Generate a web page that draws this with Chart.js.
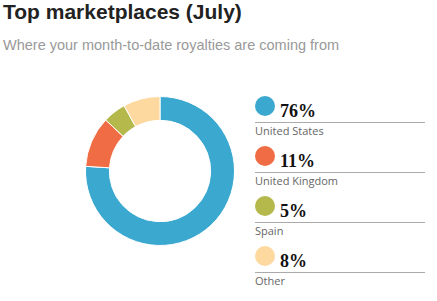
<!DOCTYPE html>
<html lang="en">
<head>
    <meta charset="UTF-8">
    <title>Top marketplaces</title>
    <style>
        body {
            margin: 0;
            width: 437px;
            height: 301px;
            background: #fff;
            font-family: 'Liberation Sans', Arial, sans-serif;
            position: relative;
            overflow: hidden;
        }
        h1 {
            position: absolute;
            left: 3px;
            top: 0px;
            margin: 0;
            font-size: 21px;
            line-height: 24px;
            font-weight: bold;
            color: #222;
        }
        .sub {
            position: absolute;
            left: 3px;
            top: 37px;
            font-size: 14.5px;
            line-height: 17px;
            color: #999;
        }
        #chart-box {
            position: absolute;
            left: 85px;
            top: 96px;
            width: 150px;
            height: 150px;
        }
        .legend-item {
            position: absolute;
            left: 255px;
            width: 170px;
            height: 50px;
        }
        .dot {
            position: absolute;
            left: 0;
            top: 0;
            width: 20px;
            height: 20px;
            border-radius: 50%;
        }
        .pct {
            position: absolute;
            left: 25px;
            top: 5px;
            font-family: 'Liberation Serif', serif;
            font-weight: bold;
            font-size: 18px;
            line-height: 20px;
            color: #111;
        }
        .rule {
            position: absolute;
            left: 0;
            top: 26px;
            width: 170px;
            border-top: 1px solid #aaa;
        }
        .name {
            position: absolute;
            left: 0;
            top: 27px;
            font-family: 'Open Sans', sans-serif;
            font-size: 11px;
            line-height: 16px;
            color: #666;
        }
    </style>
</head>
<body>
    <h1>Top marketplaces (July)</h1>
    <div class="sub">Where your month-to-date royalties are coming from</div>
    <div id="chart-box"><canvas id="donut"></canvas></div>
    <div id="legend"></div>

    <script src="https://cdn.jsdelivr.net/npm/chart.js"></script>
    <script>
        const markets = ['United States', 'United Kingdom', 'Spain', 'Other'];
        const shares = [76, 11, 5, 8];
        const colors = ['#3ba8d0', '#ef6c44', '#b5b84a', '#fdd9a0'];

        // legend on the right, one row per market
        const legend = document.getElementById('legend');
        markets.forEach((m, i) => {
            const item = document.createElement('div');
            item.className = 'legend-item';
            item.style.top = (96 + i * 50) + 'px';
            item.innerHTML =
                '<div class="dot" style="background:' + colors[i] + '"></div>' +
                '<div class="pct">' + shares[i] + '%</div>' +
                '<div class="rule"></div>' +
                '<div class="name">' + m + '</div>';
            legend.appendChild(item);
        });

        new Chart(document.getElementById('donut'), {
            type: 'doughnut',
            data: {
                labels: markets,
                datasets: [{
                    data: shares,
                    backgroundColor: colors,
                    borderColor: '#fff',
                    borderWidth: 1
                }]
            },
            options: {
                responsive: true,
                maintainAspectRatio: false,
                cutout: '68%',
                animation: false,
                plugins: {
                    legend: { display: false },
                    tooltip: { enabled: false }
                }
            }
        });
    </script>
</body>
</html>
